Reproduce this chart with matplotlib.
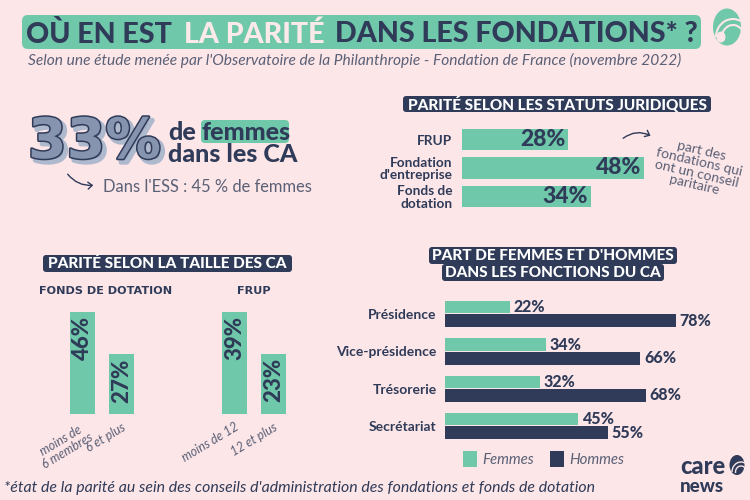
import matplotlib
matplotlib.use("Agg")
import matplotlib.pyplot as plt
import matplotlib.patheffects as pe
from matplotlib.patches import FancyBboxPatch, FancyArrowPatch, Ellipse, Arc

# data
statuts = ["FRUP", "Fondation\nd'entreprise", "Fonds de\ndotation"]
statuts_vals = [28, 48, 34]
taille_fonds_labels = ["moins de\n6 membres", "6 et plus"]
taille_fonds_vals = [46, 27]
taille_frup_labels = ["moins de 12", "12 et plus"]
taille_frup_vals = [39, 23]
fonctions = ["Présidence", "Vice-présidence", "Trésorerie", "Secrétariat"]
femmes = [22, 34, 32, 45]
hommes = [78, 66, 68, 55]

BG = "#FCE6E8"
GREEN = "#6FC8A9"
NAVY = "#2F3B58"
GREY = "#5A6076"
W, H = 750, 500

plt.rcParams["font.family"] = ["Lato", "DejaVu Sans"]
fig = plt.figure(figsize=(7.5, 5), dpi=100, facecolor=BG)


def ax_px(left, top, right, bottom):
    a = fig.add_axes([left / W, 1 - bottom / H, (right - left) / W, (bottom - top) / H])
    a.patch.set_alpha(0)
    for s in a.spines.values():
        s.set_visible(False)
    return a


# overlay in pixel coords for the decorations
bg = ax_px(0, 0, W, H)
bg.set_xlim(0, W)
bg.set_ylim(H, 0)
bg.axis("off")


def box(x0, y0, x1, y1, color, r=4):
    bg.add_patch(FancyBboxPatch((x0 + r, y0 + r), x1 - x0 - 2 * r, y1 - y0 - 2 * r,
                                boxstyle=f"round,pad={r},rounding_size={r}", fc=color, ec="none"))


def header(x0, y0, x1, y1, txt, size=11.1):
    box(x0, y0, x1, y1, NAVY, r=3)
    bg.text((x0 + x1) / 2, (y0 + y1) / 2 + 0.5, txt, color="white", fontsize=size, fontweight="black",
            ha="center", va="center")


# title
box(22, 15, 701, 49, GREEN, r=6)
title_kw = dict(fontsize=20.6, fontweight="black", va="center_baseline")
bg.text(26, 32, "OÙ EN EST", color=NAVY, **title_kw)
bg.text(184, 32, "LA PARITÉ", color="#FCE9EA", **title_kw)
bg.text(335, 32, "DANS LES FONDATIONS* ?", color=NAVY, **title_kw)
bg.text(28, 60, "Selon une étude menée par l'Observatoire de la Philanthropie - Fondation de France (novembre 2022)",
        color=GREY, fontsize=11.2, style="italic", va="center")

# logo top right
bg.add_patch(Ellipse((727, 27), 28, 37, fc=GREEN, ec="none"))
bg.add_patch(Arc((733, 37), 34, 36, theta1=180, theta2=300, color=BG, lw=1.5))
bg.add_patch(Arc((733, 37), 22, 24, theta1=170, theta2=320, color=BG, lw=1.5))
bg.add_patch(Ellipse((721, 37), 9, 11, fc=BG, ec="none"))

# 33 %
bg.text(28, 143, "33%", color="#8694B0", fontsize=40, fontweight="bold", family="DejaVu Sans", va="center",
        path_effects=[pe.Stroke(linewidth=3.5, foreground="#AEB9CE", offset=(2.5, -2.5)),
                      pe.Stroke(linewidth=2.2, foreground=NAVY), pe.Normal()])
box(201, 120, 289, 143, GREEN, r=4)
bg.text(168, 133, "de", color=NAVY, fontsize=18, fontweight="black", va="center")
bg.text(202, 132, "femmes", color=NAVY, fontsize=18, fontweight="black", va="center")
bg.text(168, 155, "dans les CA", color=NAVY, fontsize=18, fontweight="black", va="center")
bg.add_patch(FancyArrowPatch((66, 172), (96, 185), connectionstyle="arc3,rad=0.3", arrowstyle="->,head_length=3,head_width=2.5",
                             color=NAVY, lw=1))
bg.text(103, 187, "Dans l'ESS : 45 % de femmes", color=GREY, fontsize=11.9, va="center")

# statuts juridiques
header(403, 96, 711, 112, "PARITÉ SELON LES STATUTS JURIDIQUES")
ax = ax_px(462, 129, 644, 207)
bars = ax.barh(range(len(statuts)), statuts_vals, height=0.74, color=GREEN)
for b, v in zip(bars, statuts_vals):
    ax.annotate(f"{v}%", (v, b.get_y() + b.get_height() / 2), xytext=(-2, 0), textcoords="offset points",
                ha="right", va="center", color=NAVY, fontsize=16.5, fontweight="black")
ax.set_xlim(0, 48)
ax.set_ylim(2.37, -0.37)
ax.set_xticks([])
ax.set_yticks(range(len(statuts)), statuts)
ax.tick_params(axis="y", length=0, pad=7, labelsize=9.8, labelcolor=NAVY)
for t in ax.get_yticklabels():
    t.set_fontweight("bold")
    t.set_linespacing(1.05)
bg.add_patch(FancyArrowPatch((621, 140), (653, 137), connectionstyle="arc3,rad=-0.35", arrowstyle="->,head_length=3,head_width=2.5",
                             color=NAVY, lw=1))
bg.text(698, 168, "part des\nfondations qui\nont un conseil\nparitaire", color=GREY, fontsize=10, rotation=-13,
        ha="center", va="center", multialignment="center", linespacing=0.95, rotation_mode="anchor")

# taille des CA
header(43, 255, 292, 272, "PARITÉ SELON LA TAILLE DES CA")


def taille_chart(left, right, cx, labels, vals, title):
    # bars 25px wide, 39px apart, cx = pixel centre of first bar
    a = ax_px(left, 312, right, 414)
    rects = a.bar([0, 1], vals, width=25 / 39, color=GREEN)
    for r, v in zip(rects, vals):
        a.annotate(f"{v}%", (r.get_x() + r.get_width() / 2, v), xytext=(0, -3), textcoords="offset points",
                   ha="center", va="top", rotation=90, color=NAVY, fontsize=16, fontweight="black")
    a.set_xlim((left - cx) / 39, (right - cx) / 39)
    a.set_ylim(0, max(vals))
    a.set_yticks([])
    a.set_xticks([0, 1], labels)
    a.tick_params(axis="x", length=0, pad=5, labelsize=9, labelcolor=GREY)
    for t in a.get_xticklabels():
        t.set_rotation(31)
        t.set_ha("right")
        t.set_rotation_mode("anchor")
        t.set_style("italic")
        t.set_linespacing(1.0)
        t.set_multialignment("center")
    a.set_title(title, color=NAVY, fontsize=8.1, fontweight="bold", family="DejaVu Sans", pad=13)
    return a


taille_chart(39, 173, 82.5, taille_fonds_labels, taille_fonds_vals, "FONDS DE DOTATION")
taille_chart(222, 286, 234.5, taille_frup_labels, taille_frup_vals, "FRUP")

# fonctions du CA
header(429, 247, 677, 264, "PART DE FEMMES ET D'HOMMES")
header(442, 264, 664, 281, "DANS LES FONCTIONS DU CA")
ax = ax_px(445, 301, 676, 439)
y = list(range(len(fonctions)))
bf = ax.barh([i - 0.18 for i in y], femmes, height=0.33, color=GREEN, label="Femmes")
bh = ax.barh([i + 0.18 for i in y], hommes, height=0.35, color=NAVY, label="Hommes")
for group in (bf, bh):
    for b in group:
        ax.annotate(f"{int(b.get_width())}%", (b.get_width(), b.get_y() + b.get_height() / 2), xytext=(2.5, 0),
                    textcoords="offset points", ha="left", va="center", color=NAVY, fontsize=11.5, fontweight="black",
                    annotation_clip=False)
ax.set_xlim(0, 78)
ax.set_ylim(3.35, -0.35)
ax.set_xticks([])
ax.set_yticks(y, fonctions)
ax.tick_params(axis="y", length=0, pad=6, labelsize=10, labelcolor=NAVY)
for t in ax.get_yticklabels():
    t.set_fontweight("bold")
leg = ax.legend(ncol=2, frameon=False, loc="center", bbox_to_anchor=((543.5 - 445) / 231, -0.145),
                handlelength=0.93, handleheight=1.3, handletextpad=0.35, columnspacing=1.05,
                labelcolor=GREY, prop={"size": 10.8, "style": "italic"})

# footer
bg.text(4, 488, "*état de la parité au sein des conseils d'administration des fondations et fonds de dotation",
        color=NAVY, fontsize=11.4, style="italic", va="center")
bg.text(680, 474, "care", color=NAVY, fontsize=17, fontweight="black", va="baseline")
bg.text(680, 492, "news", color=NAVY, fontsize=13.5, fontweight="black", va="baseline")
bg.add_patch(Ellipse((737, 465), 15, 20, fc=NAVY, ec="none"))
bg.add_patch(Arc((741, 472), 18, 20, theta1=180, theta2=300, color=BG, lw=1))
bg.add_patch(Arc((741, 472), 11, 12, theta1=170, theta2=320, color=BG, lw=1))

fig.savefig("out.png", dpi=100, facecolor=BG)
